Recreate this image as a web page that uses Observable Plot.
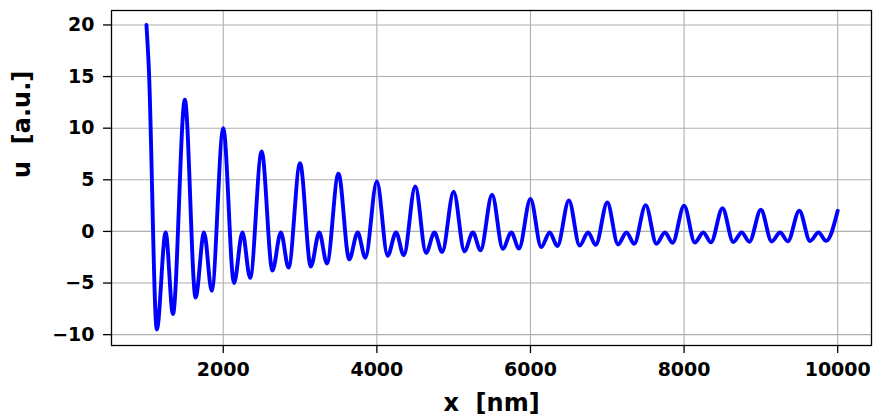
<!DOCTYPE html>
<html><head><meta charset="utf-8">
<script src="https://cdn.jsdelivr.net/npm/d3@7"></script>
<script src="https://cdn.jsdelivr.net/npm/@observablehq/plot@0.6"></script>
<style>
html,body{margin:0;padding:0;background:#fff;}
svg text{white-space:pre;}
</style></head><body><div id="chart"></div>
<script>
const xNm = [
1000,1030,1135,1250,1345,
1500,1640,1750,1850,
2000,2140,2250,2350,
2500,2640,2750,2850,
3000,3140,3250,3350,
3500,3640,3750,3850,
4000,4140,4250,4350,
4500,4640,4750,4850,
5000,5140,5250,5350,
5500,5640,5750,5850,
6000,6140,6250,6350,
6500,6640,6750,6850,
7000,7140,7250,7350,
7500,7640,7750,7850,
8000,8140,8250,8350,
8500,8640,8750,8850,
9000,9140,9250,9350,
9500,9640,9750,9850,
10000];
const uAu = [
20,16,-9.5,-0.1,-8.0,
12.75,-6.4,-0.1,-5.75,
10.0,-5.0,-0.1,-4.5,
7.75,-3.8,-0.1,-3.5,
6.6,-3.4,-0.1,-3.1,
5.6,-2.7,-0.1,-2.55,
4.85,-2.35,-0.1,-2.32,
4.35,-2.08,-0.1,-2.0,
3.85,-1.92,-0.1,-1.84,
3.55,-1.68,-0.1,-1.66,
3.15,-1.52,-0.1,-1.42,
3.0,-1.37,-0.1,-1.3,
2.8,-1.26,-0.1,-1.2,
2.55,-1.2,-0.1,-1.1,
2.5,-1.08,-0.1,-1.06,
2.25,-1.02,-0.1,-1.0,
2.1,-0.97,-0.1,-0.96,
2.0,-0.93,-0.1,-0.92,
2.0];
const xTicks = [2000,4000,6000,8000,10000];
const yTicks = [-10,-5,0,5,10,15,20];
const xLabel = "x  [nm]";
const yLabel = "u  [a.u.]";

const data = xNm.map((x, i) => ({x, u: uAu[i]}));
const fmt = d => d < 0 ? "\u2212" + Math.abs(d) : String(d);

const chart = Plot.plot({
  width: 875, height: 418,
  marginLeft: 111, marginRight: 4, marginTop: 10, marginBottom: 73,
  style: {fontFamily: "DejaVu Sans", fontSize: "19px", fontWeight: "bold", background: "#fff", color: "#000", overflow: "visible"},
  x: {domain: [545, 10440]},
  y: {domain: [-11.05, 21.4]},
  marks: [
    Plot.gridX(xTicks, {stroke: "#b0b0b0", strokeOpacity: 1, strokeWidth: 1.1}),
    Plot.gridY(yTicks, {stroke: "#b0b0b0", strokeOpacity: 1, strokeWidth: 1.1}),
    Plot.line(data, {x: "x", y: "u", stroke: "#0000ff", strokeWidth: 3.9, curve: "monotone-x"}),
    Plot.frame({stroke: "#000", strokeWidth: 1.3}),
    Plot.axisX(xTicks, {tickSize: 8, tickPadding: 9, tickFormat: fmt, label: null, strokeWidth: 1.3, fontSize: 19, fontWeight: "bold"}),
    Plot.axisY(yTicks, {tickSize: 8, tickPadding: 9, tickFormat: fmt, label: null, strokeWidth: 1.3, fontSize: 19, fontWeight: "bold"}),
    Plot.text([xLabel], {frameAnchor: "bottom", text: d => d, dy: 48, lineAnchor: "top", fontSize: 24, fontWeight: "bold"}),
    Plot.text([yLabel], {frameAnchor: "left", text: d => d, rotate: -90, dx: -89, lineAnchor: "middle", fontSize: 24, fontWeight: "bold"})
  ]
});
document.getElementById("chart").appendChild(chart);
</script>
</body></html>
